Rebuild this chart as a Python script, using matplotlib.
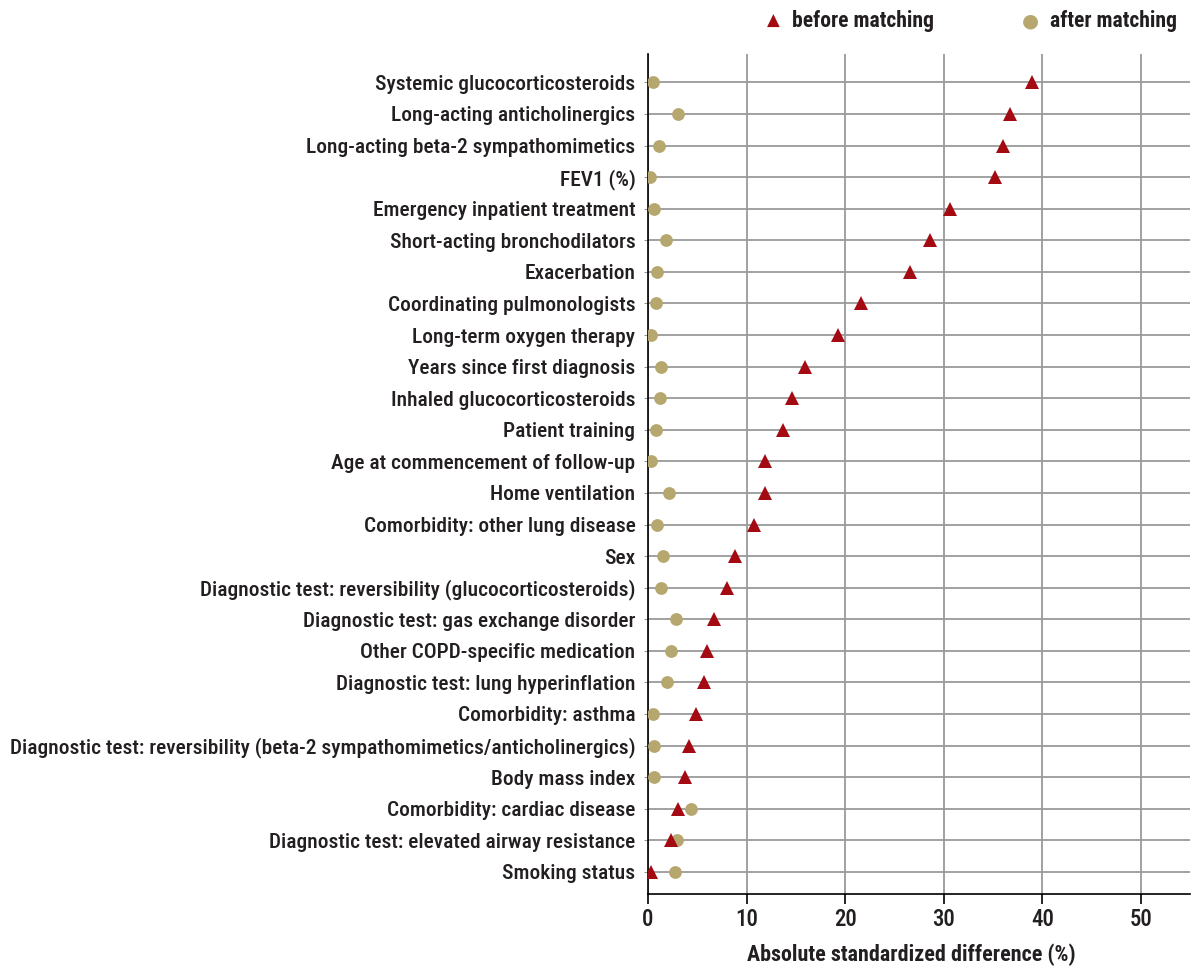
import matplotlib
matplotlib.use("Agg")
import matplotlib.pyplot as plt
from matplotlib import font_manager

names = {f.name for f in font_manager.fontManager.ttflist}
fam = [n for n in ["Roboto Condensed", "Liberation Sans Narrow", "Open Sans Condensed", "Liberation Sans"] if n in names]
fam = fam + ["DejaVu Sans"]
plt.rcParams['font.family'] = fam

categories = [
    "Systemic glucocorticosteroids",
    "Long-acting anticholinergics",
    "Long-acting beta-2 sympathomimetics",
    "FEV1 (%)",
    "Emergency inpatient treatment",
    "Short-acting bronchodilators",
    "Exacerbation",
    "Coordinating pulmonologists",
    "Long-term oxygen therapy",
    "Years since first diagnosis",
    "Inhaled glucocorticosteroids",
    "Patient training",
    "Age at commencement of follow-up",
    "Home ventilation",
    "Comorbidity: other lung disease",
    "Sex",
    "Diagnostic test: reversibility (glucocorticosteroids)",
    "Diagnostic test: gas exchange disorder",
    "Other COPD-specific medication",
    "Diagnostic test: lung hyperinflation",
    "Comorbidity: asthma",
    "Diagnostic test: reversibility (beta-2 sympathomimetics/anticholinergics)",
    "Body mass index",
    "Comorbidity: cardiac disease",
    "Diagnostic test: elevated airway resistance",
    "Smoking status",
]
before_matching = [39.0, 36.7, 36.0, 35.2, 30.6, 28.6, 26.6, 21.6, 19.3, 15.9,
                   14.6, 13.7, 11.9, 11.9, 10.8, 8.8, 8.0, 6.7, 6.0, 5.7,
                   4.9, 4.2, 3.8, 3.1, 2.3, 0.3]
after_matching = [0.5, 3.0, 1.1, 0.2, 0.6, 1.8, 0.9, 0.85, 0.3, 1.3,
                  1.2, 0.8, 0.3, 2.1, 0.9, 1.5, 1.35, 2.8, 2.3, 1.9,
                  0.5, 0.6, 0.6, 4.4, 2.9, 2.7]
x_ticks = [0, 10, 20, 30, 40, 50]

red = "#A30A12"
khaki = "#B5A76E"
txt = "#231F20"

fig = plt.figure(figsize=(11.97, 9.69), dpi=100)
ax = fig.add_axes([0.5413, 0.0774, 0.4529, 0.8666])

ypos = list(range(len(categories)))
for s in ['top', 'right']:
    ax.spines[s].set_visible(False)
ax.spines['left'].set_color('black')
ax.spines['bottom'].set_color('black')
ax.spines['left'].set_linewidth(1.2)
ax.spines['bottom'].set_linewidth(1.2)

ax.set_axisbelow(True)
ax.grid(True, color="#9a9a9a", linewidth=1.3)

ax.plot(after_matching, ypos, linestyle='none', marker='o', markersize=9.2,
        color=khaki, markeredgewidth=0, label="after matching", zorder=3)
ax.plot(before_matching, ypos, linestyle='none', marker='^', markersize=10.5,
        color=red, markeredgewidth=0, label="before matching", zorder=4)

ax.set_xlim(0, 55)
ax.set_ylim(25.7, -0.89)
ax.set_xticks(x_ticks)
ax.set_yticks(ypos)
ax.set_yticklabels(categories, fontweight='medium')
ax.tick_params(axis='y', length=3, pad=6, labelsize=15.4, labelcolor=txt, color="#9a9a9a")
ax.tick_params(axis='x', length=7, width=1.2, pad=3, labelsize=16.5, labelcolor=txt)
for lbl in ax.get_xticklabels():
    lbl.set_fontweight('medium')
ax.set_xlabel("Absolute standardized difference (%)", fontsize=15.8, fontweight='bold',
              color=txt)
ax.xaxis.set_label_coords(0.485, -0.059)

# legend
fig.text(0.6458, 0.978, "\u25B2", color=red, fontsize=12, ha='center', va='center',
         family=['DejaVu Sans'])
fig.text(0.6617, 0.978, "before matching", color=txt, fontsize=15.6, fontweight='bold',
         ha='left', va='center')
fig.text(0.8605, 0.978, "\u25CF", color=khaki, fontsize=14, ha='center', va='center',
         family=['DejaVu Sans'])
fig.text(0.8772, 0.978, "after matching", color=txt, fontsize=15.6, fontweight='bold',
         ha='left', va='center')

fig.savefig("out.png", dpi=100)
